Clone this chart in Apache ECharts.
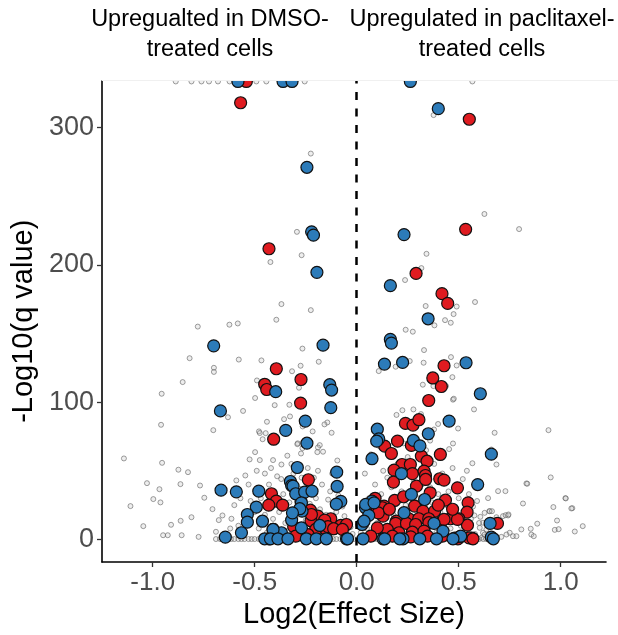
<!DOCTYPE html>
<html>
<head>
<meta charset="utf-8">
<script src="https://cdn.jsdelivr.net/npm/echarts@6/dist/echarts.min.js"></script>
<style>html,body{margin:0;padding:0;background:#fff}#c{width:618px;height:635px}</style>
</head>
<body>
<div id="c"></div>
<script>
// ---- tick labels / texts ----
const xTicks = [-1.0, -0.5, 0.0, 0.5, 1.0];
const yTicks = [0, 100, 200, 300];
const xTitle = 'Log2(Effect Size)';
const yTitle = '-Log10(q value)';
const headerLeft = ['Upregualted in DMSO-', 'treated cells'];
const headerRight = ['Upregulated in paclitaxel-', 'treated cells'];

// ---- non-significant genes (grey) ----
const grayCapped = [[-0.887,333.5],[-0.81,333.5],[-0.761,333.5],[-0.724,333.5],[-0.68,333.5],[-0.623,333.5],[-0.492,333.5],[-0.443,333.5],[-0.255,333.5],[0.567,333.5]];
const grayUpper = [[-0.225,281],[-0.293,224],[-0.27,207],[0.377,309],[0.626,237],[0.796,226],[0.342,208],
[-0.423,202],[-0.369,171.4],[-0.225,167],[-0.394,160],[-0.779,155],[-0.624,156.4],[-0.583,157.3],[-0.266,139],[-0.819,132],[-0.578,131],[-0.467,130.4],[-0.186,129.4],[-0.7,125],[-0.7,122],[-0.275,126.5],[-0.317,122.5],[-0.853,114.6],[-0.489,115.8],[-0.283,110.5],[-0.956,106.1],[-0.498,103],[-0.402,97.8],[-0.33,98.1],[-0.557,93.6],[-0.631,89],[-0.327,89.6],[-0.356,87.6],[-0.265,82.3],[-0.144,85.2],[-0.158,83.8],[-0.959,83.5],[-0.703,79.6],[-0.44,85.7],[-0.479,78.7],[-0.475,77.5],[-0.446,77.4],[-0.216,78.7],[-0.123,77.7],[-0.461,73],[-0.289,70],[-0.181,68.7],[-0.19,67],[-0.266,66.5],
[0.317,197.6],[0.237,188.9],[0.58,172.9],[0.338,170],[0.49,169.6],[0.475,164.1],[0.433,159.7],[0.461,157.8],[0.381,155.9],[0.24,152.7],[0.275,151.3],[0.33,137.9],[0.462,132.8],[0.191,125.8],[0.108,122.6],[0.26,129.9],[0.328,128.7],[0.49,126.7],[0.469,118.2],[0.324,112.7],[0.376,111.7],[0.438,111.7],[0.472,101.8],[0.476,102.5],[0.575,94.7],[0.195,90.7],[0.224,94.1],[0.278,94.7],[0.315,91.3],[0.399,84.1],[0.379,80.1],[0.497,80.8],[0.676,77.7],[0.94,79.6],[0.472,69.9],[0.453,65.8],[0.66,65.5]];
const grayLowerLeft = [[-1.141,59],[-0.954,55.8],[-0.874,50.8],[-0.827,49],[-1.028,41],[-0.967,36.6],[-0.997,29.4],[-0.962,27],[-0.864,40.3],[-0.768,39.3],[-0.747,30.4],[-1.109,24.3],[-1.046,9.7],[-0.91,10.7],[-0.863,13.6],[-0.81,16.2],[-0.949,3.1],[-0.926,3.1],[-0.858,3.1],[-0.775,1.9],[-0.707,22.1],[-0.658,17.5],[-0.676,14.1],[-0.69,5.6],[-0.614,15.1],[-0.59,43],[-0.546,46.6],[-0.498,63.6],[-0.525,58.3],[-0.475,57.8],[-0.41,57.8],[-0.369,54.6],[-0.34,61],[-0.291,69.4],[-0.273,62.6],[-0.193,63.6],[-0.165,63.9],[-0.095,57.5],
[-0.52,28],[-0.5,20],[-0.47,30],[-0.45,18],[-0.43,40],[-0.41,15],[-0.39,46],[-0.38,20],[-0.36,33],[-0.35,12],[-0.33,27],[-0.31,48],[-0.3,16],[-0.28,37],[-0.26,30],[-0.25,14],[-0.23,26],[-0.21,45],[-0.2,30],[-0.18,22],[-0.17,40],[-0.15,18],[-0.14,29],[-0.12,14],[-0.1,20],[-0.08,12],[-0.06,17],[-0.05,6],[-0.03,9],[-0.02,4],[-0.58,10],[-0.55,6],[-0.62,8],[-0.6,25],[-0.48,8],[-0.44,5],[-0.4,10],[-0.34,6],[-0.29,5],[-0.22,8],[-0.16,5],[-0.11,7],[-0.07,4],[-0.57,30],[-0.53,40],[-0.49,50],[-0.45,48],[-0.42,52],[-0.37,44],[-0.32,55],[-0.27,45],[-0.24,52],[-0.19,50],[-0.13,35],[-0.12,48],[-0.09,32],[-0.07,24]];
const grayLowerRight = [[0.567,55.5],[0.685,54.6],[0.832,40.8],[0.951,45.2],[0.693,35.2],[0.729,35.2],[0.644,30.1],[1.023,30.1],[0.815,26.2],[0.964,23.6],[1.057,22.8],[0.742,17.5],[0.717,17],[0.65,20.6],[0.885,11.5],[0.982,13.8],[1.108,9.7],[1.069,5.8],[0.807,7.3],[0.853,7.8],[0.856,3.6],[0.971,7],[0.99,7.5],[0.836,40.6],[1.025,29.9],[1.052,22.6],[0.652,20.6],[0.663,20.6],[0.627,19.4],[0.73,17.7],[0.744,18.2],[0.577,17.5],[0.606,16.5],[0.619,12.2],[0.685,16.2],[0.75,4.9],[0.766,2.4],[0.709,1.9],[0.734,3.6],[0.783,2.4],[0.868,2.4],[0.636,7.3],[0.619,4.9],[0.611,1.2],[0.627,3.6],[0.603,8.5],
[0.02,5],[0.03,15],[0.05,8],[0.06,30],[0.08,20],[0.09,40],[0.1,12],[0.12,33],[0.13,50],[0.14,25],[0.16,6],[0.17,38],[0.18,18],[0.2,55],[0.21,10],[0.22,35],[0.24,25],[0.25,60],[0.26,15],[0.28,42],[0.29,6],[0.3,30],[0.31,50],[0.33,18],[0.34,65],[0.35,8],[0.36,38],[0.37,27],[0.38,55],[0.39,5],[0.4,33],[0.41,20],[0.42,48],[0.44,25],[0.45,35],[0.46,8],[0.47,52],[0.48,22],[0.5,30],[0.51,10],[0.52,44],[0.53,6],[0.55,33],[0.56,15],[0.57,24],[0.58,4],[0.59,28],[0.6,12],[0.15,45],[0.19,28],[0.27,32],[0.32,40],[0.43,12],[0.49,40],[0.54,50],[0.04,48],[0.07,62],[0.11,68],[0.23,70],[0.36,72]];
// genes with q = 1 (the dark band along zero)
const grayBandX = [-0.69,-0.67,-0.655,-0.63,-0.615,-0.6,-0.58,-0.565,-0.55,-0.53,-0.515,-0.5,-0.48,-0.465,-0.45,-0.43,-0.415,-0.4,-0.38,-0.365,-0.35,-0.33,-0.315,-0.3,-0.28,-0.265,-0.25,-0.23,-0.215,-0.2,-0.18,-0.165,-0.15,-0.13,-0.115,-0.1,-0.08,-0.065,-0.05,-0.03,-0.015,0.005,0.02,0.035,0.05,0.07,0.085,0.1,0.12,0.135,0.15,0.17,0.185,0.2,0.22,0.235,0.25,0.27,0.285,0.3,0.32,0.335,0.35,0.37,0.385,0.4,0.42,0.435,0.45,0.47,0.485,0.5,0.52,0.535,0.55,0.57,0.585,0.6,0.62,0.635,0.65,0.67];
const grayBandY = 0.3;

// ---- significant genes ----
const redPoints = [[-0.541,333.5],[-0.569,318],[-0.43,211.7],[0.552,306],[0.534,225.8],[0.291,193.7],[0.418,179],[0.446,171.9],[-0.394,124.3],[-0.273,116.5],[-0.451,113],[-0.441,109.2],[-0.275,99.3],[-0.407,73],[0.428,126.5],[0.373,117.6],[0.415,111.4],[0.353,101.2],[0.239,84.5],[0.276,83.3],[0.305,87.2],
[0.2,71.6],[0.137,68],[0.268,68.5],[0.41,61.9],[0.17,62.6],[0.317,60.7],[0.345,57],
[0.222,54.6],[0.263,54.6],[0.183,50.5],[0.273,47.9],[0.33,49.8],[0.337,46.6],[0.18,41.7],[0.293,38.8],[0.407,44.2],[0.428,43.2],[0.494,37.6],[0.338,43.7],
[0.186,28.4],[0.23,31.1],[0.284,24.3],[0.325,20.6],[0.382,20.6],[0.435,28.6],[0.546,26.7],[0.541,19.9],
[0.129,17],[0.194,13.3],[0.134,24.3],[0.097,20.6],[0.126,23.1],[0.106,19.4],
[0.255,15.1],[0.304,15.1],[0.353,15.1],[0.412,12.2],[0.459,15.1],[0.501,15.1],[0.543,10.4],[0.69,11.7],[0.565,1],[0.48,1],
[0.191,11.7],[0.244,11.7],[0.289,10.9],[0.354,12.2],[0.15,7.3],[0.101,8.5],[0.207,4.9],[0.273,5.3],[0.33,6.1],[0.428,14.6],[0.494,14.6],
[0.069,2.4],[0.175,2.4],[0.265,1.9],[0.347,2.4],[0.42,2.4],[0.551,1.2],[0.57,0.5],[0.496,0.4],
[0.09,30],[0.16,22],[0.36,34],[0.4,25],[0.47,22],
[-0.237,43.5],[-0.418,33.3],[-0.394,27.9],[-0.363,25],[-0.431,25],[-0.273,27.7],[-0.227,21.3],[-0.19,17],[-0.127,15.1],[-0.224,13.6],[-0.078,10.2],[-0.05,10.9],[-0.116,7.8],[-0.155,7.8],[-0.201,7.3],[-0.222,18.2],[-0.157,14.1],[-0.141,9.3],[-0.113,7.8],[-0.07,7.3],[-0.41,7.3],[-0.309,9.3],[-0.299,2.4],[-0.239,3.6],[-0.43,0.4]];
const bluePoints = [[-0.582,333.5],[-0.361,333.5],[-0.317,333.5],[0.263,333.5],
[-0.244,271],[-0.221,224],[-0.212,221.6],[-0.195,194.5],[0.4,313.7],[0.232,222],[0.165,184.8],[0.35,160.7],[0.165,145.7],[0.17,143],[0.136,127.7],[0.225,128.9],[0.536,128.7],[0.606,106.1],[-0.701,141],[-0.165,141.5],[-0.397,107.6],[-0.132,112.7],[-0.123,108.8],[-0.127,96],[-0.668,93.6],[-0.252,86.2],[-0.348,79.4],[-0.244,70.1],[0.453,86.2],[0.101,80.3],[0.351,77],[0.108,73.3],[0.098,71.6],[0.278,72.1],[0.31,68.2],[0.66,62.1],[0.075,58.8],[0.219,47.9],[0.593,40],[0.268,32.8],[0.333,29.1],[0.075,27.9],[0.043,23.1],[0.059,17.5],[0.026,10.9],[0.232,19.5],[0.379,11.7],[0.423,6.1],[0.654,11.7],[0.505,2],[0.66,1.7],
[0.044,25.5],[0.085,26.7],[0.036,13.3],[0.51,2.4],
[-0.665,35.9],[-0.59,34.7],[-0.48,35.2],[-0.291,52.4],[-0.325,42.2],[-0.319,39.3],[-0.312,38.8],[-0.098,49],[-0.096,38.6],[-0.078,27.7],[-0.1,25.7],[-0.299,33.3],[-0.255,34.5],[-0.219,35.2],[-0.492,23.6],[-0.536,18.2],[-0.536,12.6],[-0.462,13.3],[-0.565,4.9],[-0.644,1.7],[-0.268,20.6],[-0.319,14.1],[-0.271,8.5],[-0.369,4.9],[-0.41,7.3],[-0.181,10.2],[-0.271,26.7],[-0.279,22.4],[-0.315,19.4],
[-0.451,0.5],[-0.423,0.5],[-0.386,0.5],[-0.337,0.5],[-0.247,0.5],[-0.198,0.5],[-0.149,0.5],[-0.05,0.5],[0.031,0.5],[0.129,0.5],[0.227,0.5],[0.309,0.5],[0.391,0.5],[0.472,0.5],[0.67,0.5],[-0.045,0.5],[0.137,0.5],[0.211,0.5]];

const FONT = 'Liberation Sans, Arial, sans-serif';
const grayPoints = grayCapped.concat(grayUpper, grayLowerLeft, grayLowerRight, grayBandX.map(x => [x, grayBandY]));

const chart = echarts.init(document.getElementById('c'), null, {renderer: 'canvas'});
const headerTexts = [];
[[headerLeft, 210], [headerRight, 482]].forEach(([lines, cx]) => {
  lines.forEach((t, i) => headerTexts.push({
    type: 'text', z: 101, x: cx, y: 20 + i * 30,
    style: {text: t, font: '23.5px ' + FONT, fill: '#000', textAlign: 'center', textVerticalAlign: 'middle'}
  }));
});

chart.setOption({
  animation: false,
  backgroundColor: '#fff',
  grid: {left: 102, right: 12, top: 80.5, bottom: 73, containLabel: false},
  xAxis: {
    type: 'value', min: -1.2485, max: 1.222,
    name: xTitle, nameLocation: 'middle', nameGap: 30,
    nameTextStyle: {fontSize: 29, color: '#000', fontFamily: FONT},
    splitLine: {show: false},
    axisLine: {onZero: false, lineStyle: {color: '#000', width: 1.6}},
    axisTick: {customValues: xTicks, length: 5, lineStyle: {color: '#333', width: 1.3}},
    axisLabel: {customValues: xTicks, formatter: v => v.toFixed(1), fontSize: 26, color: '#4d4d4d', margin: 8, fontFamily: FONT}
  },
  yAxis: {
    type: 'value', min: -16.4, max: 334.2,
    name: yTitle, nameLocation: 'middle', nameGap: 58,
    nameTextStyle: {fontSize: 29, color: '#000', fontFamily: FONT},
    splitLine: {show: false},
    axisLine: {onZero: false, lineStyle: {color: '#000', width: 1.6}},
    axisTick: {customValues: yTicks, length: 5, lineStyle: {color: '#333', width: 1.3}},
    axisLabel: {customValues: yTicks, formatter: v => String(v), fontSize: 27, color: '#4d4d4d', margin: 8, fontFamily: FONT}
  },
  series: [
    {
      type: 'scatter', z: 1, data: grayPoints, symbol: 'circle', symbolSize: 5, silent: true,
      itemStyle: {opacity: 1, color: 'rgba(200,200,200,0.3)', borderColor: 'rgba(95,95,95,0.6)', borderWidth: 1},
      markLine: {
        silent: true, symbol: ['none', 'none'], label: {show: false},
        lineStyle: {color: '#000', width: 2.5, type: [8, 8.5]},
        data: [{xAxis: 0}]
      }
    },
    {
      type: 'scatter', z: 2, data: redPoints, symbol: 'circle', symbolSize: 12, silent: true,
      itemStyle: {opacity: 1, color: '#DF1B20', borderColor: '#111', borderWidth: 1.2}
    },
    {
      type: 'scatter', z: 3, data: bluePoints, symbol: 'circle', symbolSize: 12, silent: true,
      itemStyle: {opacity: 1, color: '#2C7BB9', borderColor: '#111', borderWidth: 1.2}
    }
  ],
  graphic: [
    {type: 'rect', z: 100, shape: {x: 0, y: 0, width: 618, height: 80.5}, style: {fill: '#fff'}},
    {type: 'line', z: 100, shape: {x1: 102, y1: 80.5, x2: 618, y2: 80.5}, style: {stroke: '#f0f0f0', lineWidth: 1}}
  ].concat(headerTexts)
});
</script>
</body>
</html>
